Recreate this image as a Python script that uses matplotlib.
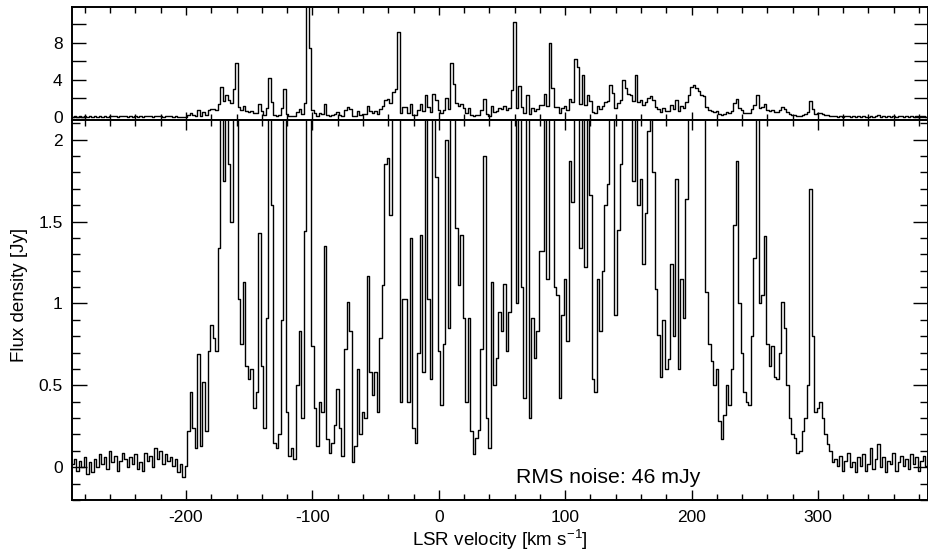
import numpy as np
import matplotlib
matplotlib.use('Agg')
import matplotlib.pyplot as plt
from matplotlib.ticker import MultipleLocator

plt.rcParams['font.family'] = ['Liberation Sans', 'DejaVu Sans']
plt.rcParams['axes.unicode_minus'] = False

# spectrum, one value per 2 km/s channel starting at -290 km/s
v_start = -290.0
v_step = 2.0
flux = [
    0.02, 0.05, -0.02, 0.04, 0.00, 0.06, -0.04, 0.03, -0.03, 0.05,   # -290
    0.00, 0.08, 0.02, 0.06, -0.01, 0.10, 0.03, 0.07, -0.02, 0.04,    # -270
    0.09, 0.05, 0.00, 0.06, 0.02, 0.08, -0.01, 0.03, -0.02, 0.09,    # -250
    0.04, 0.07, 0.00, 0.12, 0.05, 0.10, 0.02, 0.08, 0.04, 0.06,      # -230
    0.01, 0.05, -0.03, 0.02, -0.06, 0.01, 0.22, 0.46, 0.24, 0.12,    # -210
    0.69, 0.13, 0.52, 0.22, 0.71, 0.87, 0.79, 0.71, 1.34, 3.2,       # -190
    1.75, 2.4, 1.85, 1.5, 3.0, 5.8, 1.03, 0.75, 1.13, 0.62,          # -170
    0.54, 0.6, 0.36, 0.46, 1.43, 0.62, 0.24, 0.91, 4.2, 1.6,         # -150
    0.15, 0.12, 0.2, 0.9, 3.0, 0.34, 0.07, 0.12, 0.05, 0.5,          # -130
    0.83, 0.3, 1.44, 12.6, 7.4, 0.74, 0.36, 0.13, 0.4, 0.34,         # -110
    1.35, 0.17, 0.09, 0.15, 0.26, 0.48, 0.24, 0.07, 0.72, 1.01,      # -90
    0.83, 0.03, 0.13, 0.6, 0.2, 0.34, 0.3, 1.17, 0.58, 0.44,         # -70
    0.58, 0.34, 0.79, 1.11, 1.85, 1.89, 1.54, 2.7, 3.0, 9.2,         # -50
    0.4, 1.03, 1.03, 0.4, 1.4, 0.24, 0.15, 0.7, 1.42, 0.58,          # -30
    2.3, 1.03, 0.54, 2.5, 1.77, 0.71, 0.38, 0.75, 2.0, 0.85,         # -10
    5.8, 3.5, 1.46, 1.11, 1.42, 0.91, 0.4, 0.91, 0.22, 0.08,         # 10
    0.18, 0.23, 0.72, 1.9, 0.3, 0.12, 1.13, 0.5, 0.67, 0.95,         # 30
    0.83, 1.12, 0.71, 0.95, 2.9, 10.2, 1.0, 3.3, 1.1, 0.42,          # 50
    2.4, 0.3, 0.91, 0.67, 0.83, 1.32, 1.32, 2.5, 1.15, 8.0,          # 70
    3.1, 1.1, 1.05, 0.42, 0.93, 1.15, 0.77, 1.87, 1.62, 6.2,         # 90
    5.4, 1.34, 4.5, 1.22, 2.4, 1.66, 0.54, 0.46, 1.15, 0.83,         # 110
    1.2, 1.6, 1.73, 3.4, 2.6, 0.93, 1.45, 1.85, 4.0, 3.1,            # 130
    2.5, 2.3, 1.75, 4.5, 1.6, 1.76, 1.24, 1.55, 2.05, 2.2,           # 150
    1.8, 1.09, 0.81, 0.55, 0.9, 0.6, 0.66, 1.24, 0.8, 1.76,          # 170
    0.6, 1.15, 0.91, 1.64, 2.3, 3.2, 3.4, 3.1, 2.8, 2.4,             # 190
    2.2, 1.07, 0.75, 0.65, 0.5, 0.6, 0.28, 0.17, 0.32, 0.5,          # 210
    0.38, 0.6, 1.48, 1.87, 1.0, 0.7, 0.46, 0.4, 0.38, 0.8,           # 230
    1.28, 2.3, 1.0, 1.05, 1.41, 0.75, 0.62, 0.74, 0.55, 0.54,        # 250
    0.7, 1.01, 0.85, 0.5, 0.3, 0.2, 0.18, 0.09, 0.1, 0.22,           # 270
    0.3, 0.5, 1.7, 0.8, 0.34, 0.36, 0.4, 0.3, 0.2, 0.14,             # 290
    0.1, 0.03, 0.05, 0.01, 0.07, -0.02, 0.04, 0.09, 0.0, 0.03,       # 310
    -0.03, 0.06, 0.01, 0.08, -0.02, 0.02, 0.12, -0.01, 0.05, 0.14,   # 330
    0.0, 0.06, -0.03, 0.04, 0.02, 0.09, -0.02, 0.03, 0.07, 0.01,     # 350
    0.05, -0.01, 0.08, 0.02, 0.06, -0.02, 0.04, 0.07, 0.01,          # 370
]
flux = np.array(flux)
velocity = v_start + v_step * np.arange(len(flux))

rms_text = 'RMS noise: 46 mJy'

fig = plt.figure(figsize=(9.29, 5.56), dpi=100)
ax_top = fig.add_axes([0.0778, 0.784, 0.921, 0.204])
ax = fig.add_axes([0.0778, 0.1007, 0.921, 0.6835])

for a in (ax_top, ax):
    a.plot(velocity, flux, drawstyle='steps-mid', color='black', lw=1.0)
    a.set_xlim(-290, 387)
    a.xaxis.set_major_locator(MultipleLocator(100))
    a.xaxis.set_minor_locator(MultipleLocator(20))
    for s in a.spines.values():
        s.set_linewidth(1.4)
    a.tick_params(which='both', direction='in', top=True, right=True,
                  labelsize=12.5, width=1.0)
    a.tick_params(axis='y', pad=7)

# upper panel: full range of the peaks
ax_top.set_ylim(-0.36, 11.9)
ax_top.yaxis.set_major_locator(MultipleLocator(4))
ax_top.yaxis.set_minor_locator(MultipleLocator(2))
ax_top.tick_params(which='both', axis='y', length=10)
ax_top.tick_params(which='major', axis='x', length=6)
ax_top.tick_params(which='minor', axis='x', length=4)
ax_top.tick_params(labelbottom=False)

# lower panel: zoom on the weak emission
ax.set_ylim(-0.2, 2.12)
ax.yaxis.set_major_locator(MultipleLocator(0.5))
ax.yaxis.set_minor_locator(MultipleLocator(0.1))
ax.yaxis.set_major_formatter(plt.FuncFormatter(lambda y, p: '%g' % y))
ax.tick_params(which='major', axis='y', length=11)
ax.tick_params(which='minor', axis='y', length=6)
ax.tick_params(which='major', axis='x', length=7, pad=7)
ax.tick_params(which='minor', axis='x', length=4)

ax.set_xlabel('LSR velocity [km s$^{\\mathregular{-1}}$]', fontsize=13.5, labelpad=2)
ax.set_ylabel('Flux density [Jy]', fontsize=13.5)
ax.yaxis.set_label_coords(-0.052, 0.54)
ax.text(61, -0.065, rms_text, fontsize=15.3, ha='left', va='center')

fig.savefig('out.png', dpi=100)
